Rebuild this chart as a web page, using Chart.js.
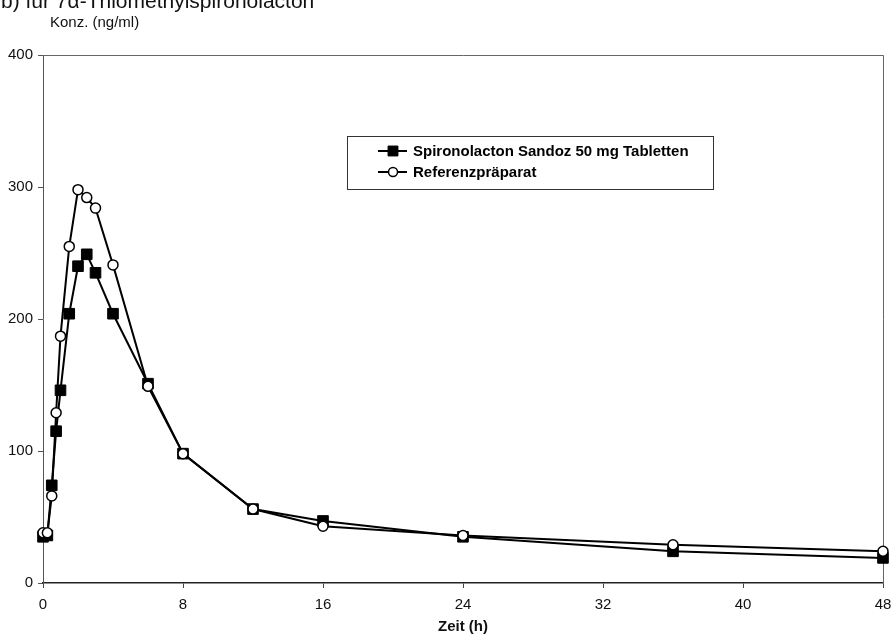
<!DOCTYPE html>
<html>
<head>
<meta charset="utf-8">
<script src="https://cdn.jsdelivr.net/npm/chart.js@4/dist/chart.umd.min.js"></script>
<style>
  html, body { margin: 0; padding: 0; background: #fff; }
  #wrap { width: 894px; height: 636px; position: relative; }
</style>
</head>
<body>
<div id="wrap"><canvas id="chart" width="894" height="636"></canvas></div>
<script>
// Zeitpunkte (h) und Konzentrationen (ng/ml)
var zeit        = [0, 0.25, 0.5, 0.75, 1, 1.5, 2, 2.5, 3, 4, 6, 8, 12, 16, 24, 36, 48]
var sandoz      = [35, 36, 74, 115, 146, 204, 240, 249, 235, 204, 151, 98, 56, 47, 35, 24, 19]
var referenz    = [38, 38, 66, 129, 187, 255, 298, 292, 284, 241, 149, 98, 56, 43, 36, 29, 24]
var nameSandoz  = "Spironolacton Sandoz 50 mg Tabletten"
var nameRef     = "Referenzpräparat"
var titel       = "b) für 7α-Thiomethylspironolacton"
var yTitel      = "Konz. (ng/ml)"
var xTitel      = "Zeit (h)"
var xTicks      = [0, 8, 16, 24, 32, 40, 48]
var yTicks      = [0, 100, 200, 300, 400]

const FONT = "'Liberation Sans', Arial, sans-serif"

const punkte = function (xs, ys) {
    return xs.map((x, i) => ({ x: x, y: ys[i] }))
}

// Rahmen, Texte oben und Legende im Diagramm
const extras = {
    id: "extras",
    beforeDatasetsDraw(chart) {
        const ctx = chart.ctx
        const a   = chart.chartArea
        ctx.save()
        ctx.strokeStyle = "#666"
        ctx.lineWidth = 1
        ctx.beginPath()
        ctx.moveTo(a.left, a.top + 0.5)
        ctx.lineTo(a.right + 0.5, a.top + 0.5)
        ctx.lineTo(a.right + 0.5, a.bottom)
        ctx.stroke()
        ctx.restore()
    },
    afterDraw(chart) {
        const ctx = chart.ctx
        ctx.save()
        ctx.fillStyle = "#111"
        ctx.textBaseline = "alphabetic"
        ctx.font = "21px " + FONT
        ctx.fillText(titel, 1, 8)
        ctx.font = "15px " + FONT
        ctx.textBaseline = "middle"
        ctx.fillText(yTitel, 50, 23)

        // Legende
        const box = { l: 347.5, t: 136.5, r: 713.5, b: 189.5 }
        ctx.strokeStyle = "#333"
        ctx.lineWidth = 1
        ctx.strokeRect(box.l, box.t, box.r - box.l, box.b - box.t)
        const rows = [151, 172]
        chart.data.datasets.forEach((ds, i) => {
            const y = rows[i]
            ctx.strokeStyle = "#000"
            ctx.lineWidth = 2
            ctx.beginPath()
            ctx.moveTo(378, y)
            ctx.lineTo(407, y)
            ctx.stroke()
            ctx.fillStyle = ds.pointBackgroundColor
            ctx.strokeStyle = ds.pointBorderColor
            ctx.lineWidth = ds.pointBorderWidth
            Chart.helpers.drawPoint(ctx, { pointStyle: ds.pointStyle, radius: ds.pointStyle === "rect" ? 7 : 4.5, rotation: 0, borderWidth: ds.pointBorderWidth }, 393, y)
            ctx.fillStyle = "#000"
            ctx.font = "bold 15px " + FONT
            ctx.textBaseline = "middle"
            ctx.fillText(ds.label, 413, y + 1)
        })
        ctx.restore()
    }
}

new Chart(document.getElementById("chart"), {
    type: "line",
    data: {
        datasets: [
            {
                label: nameSandoz, data: punkte(zeit, sandoz), order: 1,
                borderColor: "#000", borderWidth: 2, tension: 0,
                pointStyle: "rect", pointRadius: 7.5, pointHoverRadius: 7.5,
                pointBackgroundColor: "#000", pointBorderColor: "#000", pointBorderWidth: 1
            },
            {
                label: nameRef, data: punkte(zeit, referenz), order: 0,
                borderColor: "#000", borderWidth: 2, tension: 0,
                pointStyle: "circle", pointRadius: 5, pointHoverRadius: 5,
                pointBackgroundColor: "#fff", pointBorderColor: "#000", pointBorderWidth: 1.5
            }
        ]
    },
    options: {
        responsive: false,
        animation: false,
        clip: false,
        layout: { padding: { top: 55, right: 11, left: 0, bottom: 0 } },
        plugins: { legend: { display: false }, title: { display: false }, tooltip: { enabled: false } },
        scales: {
            x: {
                type: "linear", min: 0, max: 48,
                afterBuildTicks: (s) => { s.ticks = xTicks.map((v) => ({ value: v })) },
                afterFit: (s) => { s.height = 53; s.paddingLeft = 0; s.paddingRight = 0 },
                border: { color: "#222", width: 1.5 },
                grid: { drawOnChartArea: false, tickLength: 5, color: "#444" },
                ticks: { color: "#111", font: { size: 15, family: FONT }, padding: 8, maxRotation: 0 },
                title: { display: true, text: xTitel, color: "#111", font: { size: 15, weight: "bold", family: FONT }, padding: { top: 0, bottom: 0 } }
            },
            y: {
                min: 0, max: 400,
                afterBuildTicks: (s) => { s.ticks = yTicks.map((v) => ({ value: v })) },
                afterFit: (s) => { s.width = 43; s.paddingTop = 0; s.paddingBottom = 0 },
                border: { color: "#555", width: 1 },
                grid: { drawOnChartArea: false, tickLength: 5, color: "#555" },
                ticks: { color: "#111", font: { size: 15, family: FONT }, padding: 5 }
            }
        }
    },
    plugins: [extras]
})
</script>
</body>
</html>
